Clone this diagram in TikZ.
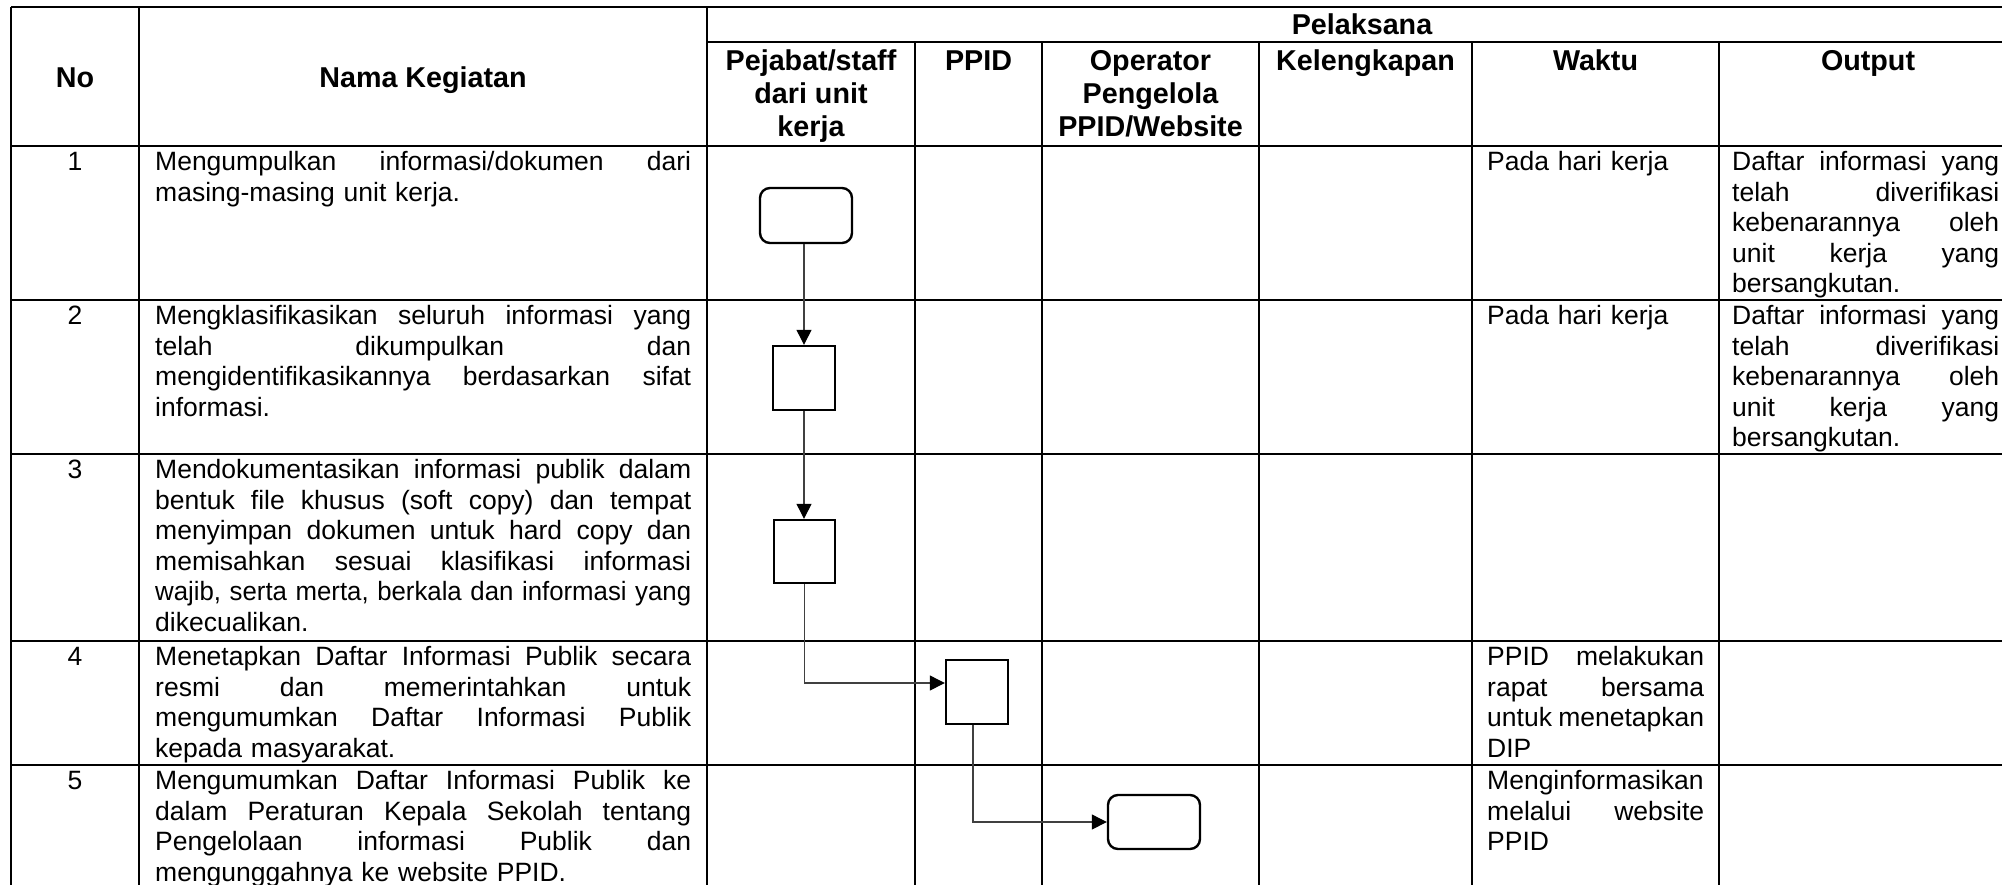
\documentclass[tikz,border=0pt]{standalone}
\usepackage{fontspec}
\usepackage{graphicx}
\setmainfont{Liberation Sans}
\usetikzlibrary{arrows.meta}
\newcommand\jl[1]{\leavevmode\hbox to\hsize{\spaceskip=0pt\xspaceskip=0pt\strut #1}}
\newcommand\fitl[1]{\leavevmode\resizebox{\hsize}{\height}{\strut #1}}
\begin{document}
\begin{tikzpicture}[x=1pt,y=-1pt,
  cell/.style={inner sep=0pt, font=\fontsize{26.5}{30.5}\selectfont},
  body/.style={cell, anchor=north west, align=left, yshift=-3pt},
  num/.style={cell, anchor=north, yshift=-3pt},
  hdr/.style={inner sep=0pt, font=\fontsize{28.7}{33}\selectfont\bfseries, align=center},
  grid/.style={line width=1.8pt},
  hline/.style={line width=2pt},
  box/.style={draw, line width=2.4pt, rectangle, inner sep=0pt},
  rbox/.style={box, rounded corners=10pt},
  conn/.style={line width=1.2pt, draw=black!75, -{Triangle[length=15pt,width=15pt,color=black]}}]
\useasboundingbox (0,0) rectangle (2002,884);
\clip (0,0) rectangle (2002,884);
% table lines
\draw[hline] (11,7) -- (2017,7);
\draw[hline] (707,42) -- (2017,42);
\foreach \y in {146,300,454,641,765,895} \draw[hline] (11,\y) -- (2017,\y);
\foreach \x in {11,139,707,2017} \draw[grid] (\x,7) -- (\x,895);
\foreach \x in {915,1042,1259,1472,1719} \draw[grid] (\x,42) -- (\x,895);
% headers
\node[hdr, anchor=base] (hno) at (75,87.3) {No};
\node[hdr, anchor=base] (hnama) at (423,87.3) {Nama Kegiatan};
\node[hdr, anchor=base] (hpel) at (1362,34) {Pelaksana};
\node[hdr, anchor=north] (hpej) at (811,46.9) {\strut Pejabat/staff\\\strut dari unit\\\strut kerja};
\node[hdr, anchor=north] (hppid) at (978.5,46.9) {\strut PPID};
\node[hdr, anchor=north] (hop) at (1150.5,46.9) {\strut Operator\\\strut Pengelola\\\strut PPID/Website};
\node[hdr, anchor=north] (hkel) at (1365.5,46.9) {\strut Kelengkapan};
\node[hdr, anchor=north] (hwak) at (1595.5,46.9) {\strut Waktu};
\node[hdr, anchor=north] (hout) at (1868,46.9) {\strut Output};
% row 1
\node[num] (n1) at (75,146) {\strut 1};
\node[body, text width=536pt] (k1) at (155,146) {\jl{Mengumpulkan informasi/dokumen dari}\\\strut masing-masing unit kerja.};
\node[body, text width=217pt] (w1) at (1487,146) {\strut Pada hari kerja};
\node[body, text width=267pt] (o1) at (1732,146) {\jl{Daftar informasi yang}\\\jl{telah diverifikasi}\\\jl{kebenarannya oleh}\\\jl{unit kerja yang}\\\strut bersangkutan.};
% row 2
\node[num] (n2) at (75,300) {\strut 2};
\node[body, text width=536pt] (k2) at (155,300) {\jl{Mengklasifikasikan seluruh informasi yang}\\\jl{telah dikumpulkan dan}\\\jl{mengidentifikasikannya berdasarkan sifat}\\\strut informasi.};
\node[body, text width=217pt] (w2) at (1487,300) {\strut Pada hari kerja};
\node[body, text width=267pt] (o2) at (1732,300) {\jl{Daftar informasi yang}\\\jl{telah diverifikasi}\\\jl{kebenarannya oleh}\\\jl{unit kerja yang}\\\strut bersangkutan.};
% row 3
\node[num] (n3) at (75,454) {\strut 3};
\node[body, text width=536pt] (k3) at (155,454) {\jl{Mendokumentasikan informasi publik dalam}\\\jl{bentuk file khusus (soft copy) dan tempat}\\\jl{menyimpan dokumen untuk hard copy dan}\\\jl{memisahkan sesuai klasifikasi informasi}\\\fitl{wajib, serta merta, berkala dan informasi yang}\\\strut dikecualikan.};
% row 4
\node[num] (n4) at (75,641) {\strut 4};
\node[body, text width=536pt] (k4) at (155,641) {\jl{Menetapkan Daftar Informasi Publik secara}\\\jl{resmi dan memerintahkan untuk}\\\jl{mengumumkan Daftar Informasi Publik}\\\strut kepada masyarakat.};
\node[body, text width=217pt] (w4) at (1487,641) {\jl{PPID melakukan}\\\jl{rapat bersama}\\\jl{untuk menetapkan}\\\strut DIP};
% row 5
\node[num] (n5) at (75,765) {\strut 5};
\node[body, text width=536pt] (k5) at (155,765) {\jl{Mengumumkan Daftar Informasi Publik ke}\\\jl{dalam Peraturan Kepala Sekolah tentang}\\\jl{Pengelolaan informasi Publik dan}\\\strut mengunggahnya ke website PPID.};
\node[body, text width=217pt] (w5) at (1487,765) {\strut Menginformasikan\\\jl{melalui website}\\\strut PPID};
% flow boxes
\node[rbox, minimum width=92pt, minimum height=55pt] (b1) at (806,215.5) {};
\node[box, minimum width=62pt, minimum height=64pt] (b2) at (804,378) {};
\node[box, minimum width=61pt, minimum height=63pt] (b3) at (804.5,551.5) {};
\node[box, minimum width=62pt, minimum height=64pt] (b4) at (977,692) {};
\node[rbox, minimum width=92pt, minimum height=54pt] (b5) at (1154,822) {};
% connectors
\draw[conn] (b1.south -| b2.north) -- (b2.north);
\draw[conn] (b2.south) -- (b2.south |- b3.north);
\draw[conn] (b3.south) |- ([yshift=9pt]b4.west);
\draw[conn] ([xshift=-4pt]b4.south) |- (b5.west);
\end{tikzpicture}
\end{document}
